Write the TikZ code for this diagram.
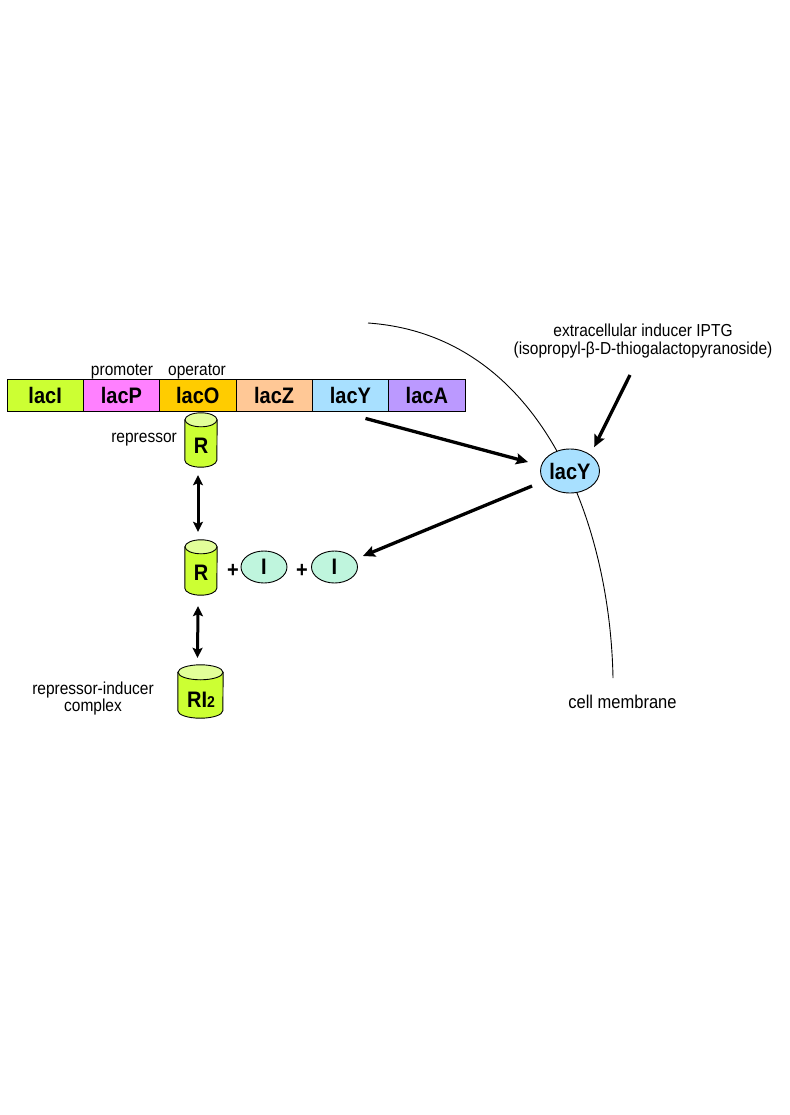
\documentclass[tikz,border=0pt]{standalone}
\usepackage{fontspec}
\setmainfont{Liberation Sans}
\usetikzlibrary{shapes.geometric,arrows.meta,calc}
\definecolor{cI}{HTML}{CCFF33}
\definecolor{cP}{HTML}{FF80FF}
\definecolor{cO}{HTML}{FFCC00}
\definecolor{cZ}{HTML}{FFC896}
\definecolor{cY}{HTML}{A8E0FF}
\definecolor{cA}{HTML}{BB99FF}
\definecolor{cIn}{HTML}{BFF5DD}
\definecolor{cylbody}{HTML}{CCFF33}
\definecolor{cyltop}{HTML}{E2FF99}
\newcommand\genefont{\fontsize{20}{22}\selectfont\bfseries}
\newcommand\smallfont{\fontsize{15.5}{18}\selectfont}
\newcommand\vs[1]{\scalebox{1}[1.12]{#1}}
\newcommand\drawcyl[6]{% name, cx, cy, width, height, ry
  \node[inner sep=0pt,minimum width=#4pt,minimum height=#5pt] (#1) at (#2,#3) {};
  \filldraw[fill=cylbody,line width=0.9pt] ([yshift=-#6pt]#1.north west) -- ([yshift=#6pt]#1.south west)
     arc[start angle=180,end angle=360,x radius={#4*0.5pt},y radius=#6pt]
     -- ([yshift=-#6pt]#1.north east) -- cycle;
  \filldraw[fill=cyltop,line width=0.9pt] ([yshift=-#6pt]#1.north) ellipse[x radius={#4*0.5pt},y radius=#6pt];
}
\begin{document}
\begin{tikzpicture}[x=1pt,y=-1pt,
  gene/.style={draw=black,line width=0.9pt,minimum width=76.33pt,minimum height=32pt,inner sep=0pt,font=\genefont},
  oval/.style={ellipse,draw=black,line width=0.9pt,inner sep=0pt,font=\genefont},
  lbl/.style={font=\smallfont,inner sep=0pt,anchor=base},
  bold/.style={font=\genefont,inner sep=0pt,anchor=base},
  arr/.style={line width=3.3pt,-{Stealth[length=12pt,width=11pt,inset=2pt]}},
  dbl/.style={line width=3pt,{Stealth[length=10pt,width=10pt,inset=2pt]}-{Stealth[length=10pt,width=10pt,inset=2pt]}},
  ]
\useasboundingbox[fill=white] (0,0) rectangle (789,1115);
% cell membrane
\draw[line width=0.9pt] (368,323) .. controls (540,335) and (610,520) .. (613,678);
% gene bar
\node[gene,fill=cI] (lacI) at (45.17,395) {\vs{lacI}};
\node[gene,fill=cP] (lacP) at (121.5,395) {\vs{lacP}};
\node[gene,fill=cO] (lacO) at (197.83,395) {\vs{lacO}};
\node[gene,fill=cZ] (lacZ) at (274.17,395) {\vs{lacZ}};
\node[gene,fill=cY] (lacYg) at (350.5,395) {\vs{lacY}};
\node[gene,fill=cA] (lacA) at (426.83,395) {\vs{lacA}};
\node[lbl] (prom) at (122,375) {\vs{promoter}};
\node[lbl] (oper) at (197,375) {\vs{operator}};
% repressor cylinders
\drawcyl{R1}{201}{440}{32}{54}{7}
\node[bold] (R1t) at (201,453) {\vs{R}};
\node[lbl,anchor=base east] (rep) at (177,442) {\vs{repressor}};
\drawcyl{R2}{201}{567.5}{32}{55}{7}
\node[bold] (R2t) at (201,580) {\vs{R}};
\drawcyl{RI}{200.5}{691.5}{45}{53}{7.5}
\node[bold] (RIt) at (201,707) {\vs{RI\fontsize{14}{14}\selectfont 2}};
\node[lbl,align=center,anchor=base] (ric) at (93,711) {\vs{repressor-inducer}\\[-1pt]\vs{complex}};
% inducers
\node[bold] (p1) at (233,577) {\vs{+}};
\node[oval,fill=cIn,minimum width=46pt,minimum height=32pt] (I1) at (264,567) {\vs{I}};
\node[bold] (p2) at (302,577) {\vs{+}};
\node[oval,fill=cIn,minimum width=46pt,minimum height=32pt] (I2) at (334.5,567) {\vs{I}};
% lacY permease
\node[oval,fill=cY,minimum width=59pt,minimum height=44pt] (lacYe) at (570,471) {\vs{lacY}};
% texts on right
\node[lbl,align=center,anchor=base] (iptg) at (643,354) {\vs{extracellular inducer IPTG}\\[0pt]\vs{(isopropyl-β-D-thiogalactopyranoside)}};
\node[font=\fontsize{16.5}{19}\selectfont,inner sep=0pt,anchor=base] (cm) at (622.5,708) {\vs{cell membrane}};
\coordinate (iptgs) at (630,375);
% arrows
\draw[dbl] ([xshift=-3pt,yshift=-8pt]R1.south) -- ([xshift=-3pt,yshift=8pt]R2.north);
\draw[dbl] ([xshift=-3pt,yshift=-11pt]R2.south) -- ([xshift=-3pt,yshift=7pt]RI.north);
\draw[arr] ([shift={(15pt,-7pt)}]lacYg.south) -- ([shift={(-12pt,9pt)}]lacYe.west);
\draw[arr] ([shift={(-8pt,-15pt)}]lacYe.west) -- ([shift={(5pt,11pt)}]I2.east);
\draw[arr] (iptgs) -- ([shift={(3pt,8pt)}]lacYe.north east);
\end{tikzpicture}
\end{document}
